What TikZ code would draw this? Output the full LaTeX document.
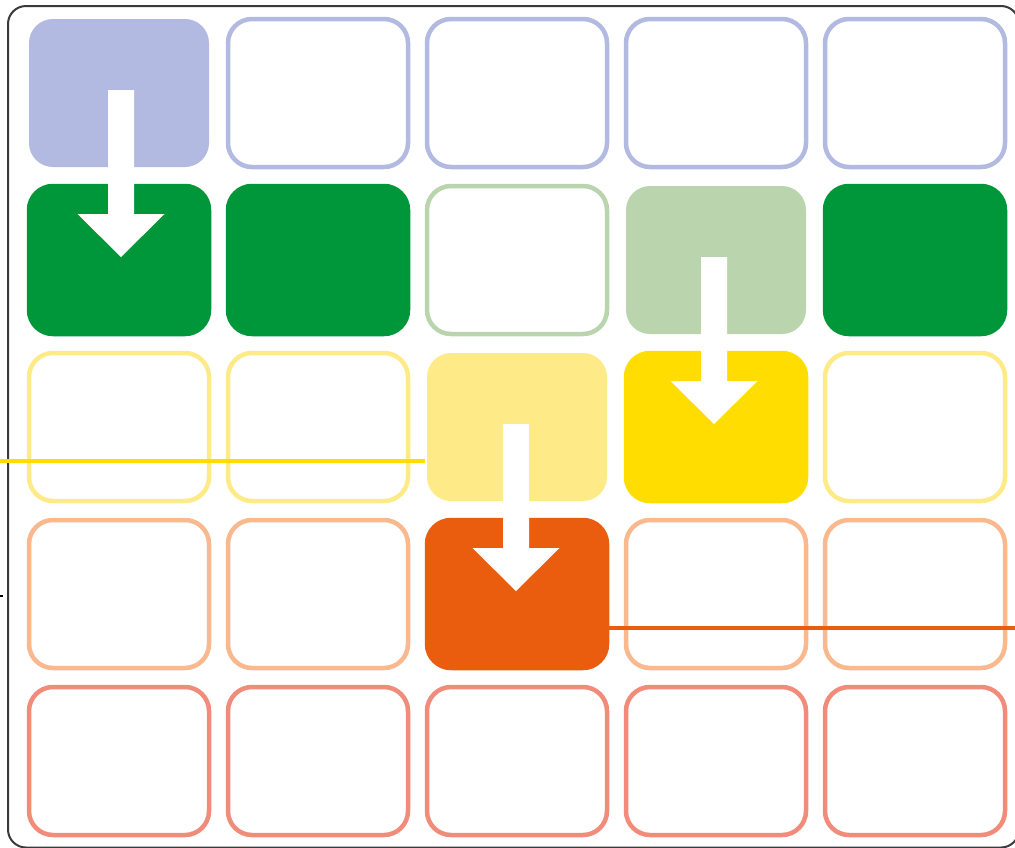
\documentclass[tikz,border=0pt]{standalone}
\usetikzlibrary{calc}
\definecolor{paleblue}{HTML}{B2BAE1}
\definecolor{dkgreen}{HTML}{00963A}
\definecolor{palegreen}{HTML}{BAD5AE}
\definecolor{dkyellow}{HTML}{FFDD00}
\definecolor{paleyellow}{HTML}{FFEA88}
\definecolor{dkorange}{HTML}{EA5D0E}
\definecolor{paleorange}{HTML}{F9B88E}
\definecolor{salmon}{HTML}{F18B7A}
\definecolor{framegray}{HTML}{3A3A3A}
\begin{document}
\begin{tikzpicture}[x=1pt,y=-1pt,
  cell/.style={rectangle,rounded corners=24pt,minimum width=180pt,minimum height=148pt,line width=4.5pt,inner sep=0pt},
  outl/.style={cell,draw=#1,fill=white},
  full/.style={cell,draw=#1,fill=#1},
  pale/.style={cell,fill=#1,minimum width=180pt,minimum height=148pt},
  bar/.style={line width=4.5pt}]
\useasboundingbox (0,0) rectangle (1015,847);
% outer frame
\draw[framegray,line width=2pt,rounded corners=18pt] (8,6) rectangle (1019,847.5);
\coordinate (tickA) at (0,596);
\coordinate (tickB) at (3,596);
\draw[black,line width=2pt] (tickA) -- (tickB);
% row 1
\node[pale=paleblue] (c11) at (119,93) {};
\node[outl=paleblue] (c12) at (318,93) {};
\node[outl=paleblue] (c13) at (517,93) {};
\node[outl=paleblue] (c14) at (716,93) {};
\node[outl=paleblue] (c15) at (915,93) {};
% row 2
\node[full=dkgreen] (c21) at (119,260) {};
\node[full=dkgreen] (c22) at (318,260) {};
\node[outl=palegreen] (c23) at (517,260) {};
\node[pale=palegreen] (c24) at (716,260) {};
\node[full=dkgreen] (c25) at (915,260) {};
% row 3
\node[outl=paleyellow] (c31) at (119,427) {};
\node[outl=paleyellow] (c32) at (318,427) {};
\node[pale=paleyellow] (c33) at (517,427) {};
\node[full=dkyellow] (c34) at (716,427) {};
\node[outl=paleyellow] (c35) at (915,427) {};
% row 4
\node[outl=paleorange] (c41) at (119,594) {};
\node[outl=paleorange] (c42) at (318,594) {};
\node[full=dkorange] (c43) at (517,594) {};
\node[outl=paleorange] (c44) at (716,594) {};
\node[outl=paleorange] (c45) at (915,594) {};
% row 5
\node[outl=salmon] (c51) at (119,761) {};
\node[outl=salmon] (c52) at (318,761) {};
\node[outl=salmon] (c53) at (517,761) {};
\node[outl=salmon] (c54) at (716,761) {};
\node[outl=salmon] (c55) at (915,761) {};
% horizontal lines
\coordinate (ylstart) at (0,461);
\draw[bar,dkyellow] (ylstart) -- (ylstart -| c33.west);
\coordinate (olend) at (1015,628);
\draw[bar,dkorange] (olend -| c43.east) -- (olend);
% arrows
\foreach \s/\t/\dx in {c11/c21/2,c24/c34/-2,c33/c43/-1}{
  \fill[white] ($(\s.center)+(\dx-13,-3)$) -- ($(\s.center)+(\dx+13,-3)$)
    -- ($(\t.center)+(\dx+13,-46)$) -- ($(\t.center)+(\dx+43.5,-46)$)
    -- ($(\t.center)+(\dx,-3)$) -- ($(\t.center)+(\dx-43.5,-46)$)
    -- ($(\t.center)+(\dx-13,-46)$) -- cycle;
}
\end{tikzpicture}
\end{document}
